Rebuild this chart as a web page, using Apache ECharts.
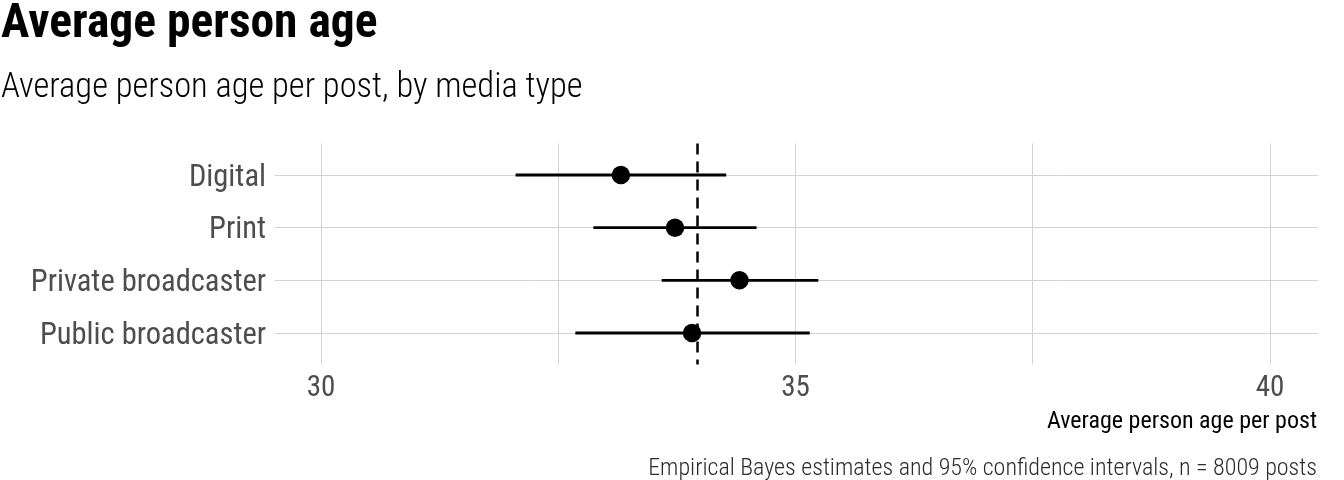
<!DOCTYPE html>
<html>
<head>
<meta charset="utf-8">
<script src="https://cdn.jsdelivr.net/npm/echarts@6/dist/echarts.min.js"></script>
<style>html,body{margin:0;padding:0;background:#fff}#c{width:1344px;height:480px}</style>
</head>
<body>
<div id="c"></div>
<script>
const categories = ['Digital', 'Print', 'Private broadcaster', 'Public broadcaster'];
const estimates = [33.16, 33.73, 34.41, 33.91];
const lower = [32.05, 32.87, 33.59, 32.68];
const upper = [34.27, 34.59, 35.24, 35.15];
const overallMean = 33.96;
const xTicks = [30, 35, 40];
const xGrid = [30, 32.5, 35, 37.5, 40];

const FONT = '"Roboto Condensed", "Liberation Sans Narrow", "DejaVu Sans Condensed", Roboto, sans-serif';
const chart = echarts.init(document.getElementById('c'));

const barData = categories.map((c, i) => [lower[i], upper[i], i]);
const pointData = categories.map((c, i) => [estimates[i], i]);

chart.setOption({
  animation: false,
  backgroundColor: '#fff',
  textStyle: { fontFamily: FONT },
  title: [
    { text: 'Average person age', left: -4, top: -4,
      textStyle: { fontFamily: FONT, fontWeight: 'bold', fontSize: 47.5, color: '#000' } },
    { text: 'Average person age per post, by media type', left: -4, top: 66,
      textStyle: { fontFamily: FONT, fontWeight: 300, fontSize: 34.5, color: '#000' } },
    { text: 'Average person age per post', right: 22, top: 405,
      textStyle: { fontFamily: FONT, fontWeight: 'normal', fontSize: 24, color: '#000' } },
    { text: 'Empirical Bayes estimates and 95% confidence intervals, n = 8009 posts', right: 22, top: 452,
      textStyle: { fontFamily: FONT, fontWeight: 300, fontSize: 24, color: '#2b2b2b' } }
  ],
  grid: { left: 275, right: 26, top: 143.4, bottom: 115.4, containLabel: false },
  xAxis: {
    type: 'value', min: 29.515, max: 40.506,
    axisLine: { show: false }, axisTick: { show: false },
    splitLine: { show: false },
    axisLabel: { customValues: xTicks, fontFamily: FONT, fontSize: 29, color: '#4d4d4d', margin: 10 }
  },
  yAxis: {
    type: 'value', inverse: true, min: -0.6, max: 3.6,
    axisLine: { show: false }, axisTick: { show: false },
    splitLine: { show: false },
    axisLabel: {
      customValues: [0, 1, 2, 3],
      fontFamily: FONT, fontSize: 30.5, color: '#4d4d4d', margin: 9,
      formatter: v => (Number.isInteger(v) && categories[v]) ? '{a|' + categories[v] + '}' : '',
      rich: { a: { fontFamily: FONT, fontSize: 30.5, color: '#4d4d4d', padding: [6, 0, 0, 0] } }
    }
  },
  series: [
    {
      type: 'line', data: [], silent: true, z: 1,
      markLine: {
        silent: true, symbol: 'none', label: { show: false }, z: 0,
        lineStyle: { color: '#d3d3d3', width: 1, type: 'solid' },
        data: xGrid.map(v => ({ xAxis: v })).concat(categories.map((c, i) => ({ yAxis: i })))
      }
    },
    {
      type: 'custom', z: 3,
      renderItem: function (params, api) {
        const a = api.coord([api.value(0), api.value(2)]);
        const b = api.coord([api.value(1), api.value(2)]);
        const h = 2.8;
        return { type: 'rect', shape: { x: a[0], y: a[1] - h / 2, width: b[0] - a[0], height: h },
          style: { fill: '#000' } };
      },
      encode: { x: [0, 1], y: 2 },
      data: barData
    },
    {
      type: 'scatter', z: 6, symbol: 'circle', symbolSize: 18.5,
      itemStyle: { color: '#000', opacity: 1 },
      data: pointData
    },
    {
      type: 'line', data: [], silent: true, z: 2,
      markLine: {
        silent: true, symbol: 'none', label: { show: false }, z: 4,
        lineStyle: { color: '#000', width: 2.5, type: [11, 7] },
        data: [{ xAxis: overallMean }]
      }
    }
  ]
});
</script>
</body>
</html>
